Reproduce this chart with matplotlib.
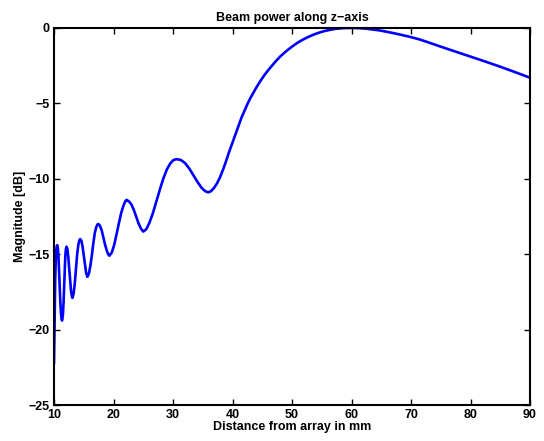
import matplotlib
matplotlib.use('Agg')
import matplotlib.pyplot as plt

# distance from array (mm) and beam power (dB)
z_mm = [10.0, 10.05, 10.1, 10.15, 10.2, 10.28, 10.36, 10.45, 10.55,
        10.65, 10.75, 10.85, 10.95, 11.05, 11.15, 11.25, 11.35,
        11.5, 11.6, 11.7, 11.8, 11.9, 12.0, 12.1,
        12.25, 12.4, 12.55, 12.7, 12.85, 13.0, 13.1,
        13.3, 13.5, 13.7, 13.9, 14.1, 14.25, 14.4,
        14.6, 14.8, 15.0, 15.2, 15.4, 15.6,
        15.85, 16.1, 16.35, 16.6, 16.85, 17.1, 17.3, 17.45,
        17.7, 18.0, 18.3, 18.6, 18.9, 19.1, 19.3,
        19.7, 20.1, 20.5, 20.9, 21.3, 21.7, 22.0, 22.2,
        22.6, 23.0, 23.4, 23.8, 24.2, 24.6, 25.0,
        25.5, 26.0, 26.6, 27.2, 27.8, 28.4, 29.0, 29.6, 30.1, 30.6,
        31.3, 32.0, 32.7, 33.4, 34.1, 34.8, 35.4, 35.9,
        36.4, 36.9, 37.4, 37.9, 38.4, 38.9, 39.4, 40.0, 40.5, 41.0, 41.5,
        42.0, 42.5, 43.0, 43.5, 44.0, 44.5, 45.0, 45.6, 46.2, 46.8,
        47.4, 48.0, 48.7, 49.4, 50.2, 51.0, 51.8, 52.6, 53.5, 54.4,
        55.3, 56.3, 57.3, 58.4, 59.5, 60.5, 61.5, 62.5, 63.5, 64.5,
        65.5, 66.5, 67.5, 68.5, 69.5, 70.5, 71.5, 72.5, 75.0, 77.5, 80.0,
        82.5, 85.0, 87.5, 90.0]
power_db = [-22.2, -20.8, -19.3, -17.9, -16.7, -15.5, -14.8, -14.47, -14.4,
            -14.6, -15.2, -16.1, -17.1, -18.1, -18.8, -19.25, -19.4,
            -19.0, -18.2, -17.1, -16.0, -15.1, -14.65, -14.5,
            -14.65, -15.2, -15.95, -16.75, -17.4, -17.8, -17.9,
            -17.6, -16.9, -15.9, -14.95, -14.35, -14.08, -14.0,
            -14.1, -14.5, -15.1, -15.75, -16.25, -16.5,
            -16.3, -15.8, -15.1, -14.3, -13.6, -13.2, -13.03, -13.0,
            -13.1, -13.4, -13.9, -14.4, -14.8, -15.0, -15.1,
            -14.9, -14.4, -13.7, -12.95, -12.25, -11.75, -11.48, -11.4,
            -11.5, -11.7, -12.05, -12.5, -12.95, -13.3, -13.5,
            -13.35, -12.95, -12.3, -11.5, -10.7, -9.95, -9.35, -8.95, -8.75, -8.7,
            -8.75, -8.95, -9.3, -9.75, -10.2, -10.6, -10.82, -10.9,
            -10.82, -10.6, -10.3, -9.9, -9.4, -8.85, -8.25, -7.6, -7.05, -6.5, -5.95,
            -5.5, -5.05, -4.65, -4.3, -3.95, -3.63, -3.33, -3.0, -2.7, -2.42,
            -2.15, -1.9, -1.65, -1.42, -1.18, -0.96, -0.78, -0.62, -0.46, -0.33,
            -0.22, -0.13, -0.06, -0.02, 0.0, 0.0, -0.02, -0.05, -0.1, -0.15,
            -0.22, -0.3, -0.38, -0.47, -0.56, -0.66, -0.77, -0.9, -1.24, -1.57, -1.9,
            -2.23, -2.57, -2.93, -3.3]

xticks = [10, 20, 30, 40, 50, 60, 70, 80, 90]
yticks = [-25, -20, -15, -10, -5, 0]

plt.rcParams['font.family'] = ['Liberation Sans', 'DejaVu Sans']
plt.rcParams['font.weight'] = 'bold'
plt.rcParams['font.size'] = 9

fig = plt.figure(figsize=(5.44, 4.41), dpi=100)
ax = fig.add_axes([0.0993, 0.0816, 0.875, 0.855])
ax.plot(z_mm, power_db, color='#0000ff', linewidth=1.9,
        solid_joinstyle='round')

ax.set_xlim(10, 90)
ax.set_ylim(-25, 0)
ax.set_xticks(xticks)
ax.set_yticks(yticks)
ax.tick_params(direction='in', top=True, right=True, length=4, width=1)
ax.tick_params(axis='x', pad=3)
ax.tick_params(axis='y', pad=3)
for s in ax.spines.values():
    s.set_linewidth(1.5)

ax.set_title('Beam power along z\u2212axis', fontsize=9, fontweight='bold', pad=5)
ax.set_xlabel('Distance from array in mm', fontsize=9, fontweight='bold', labelpad=0)
ax.set_ylabel('Magnitude [dB]', fontsize=9, fontweight='bold', labelpad=2)

fig.savefig('out.png', dpi=100)
